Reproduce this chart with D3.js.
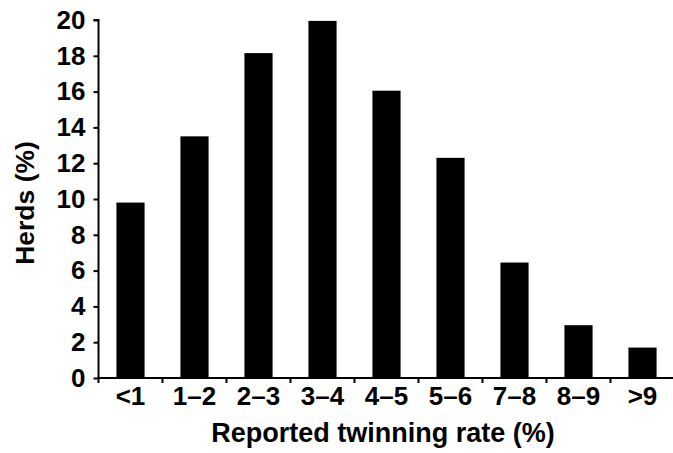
<!DOCTYPE html>
<html><head><meta charset="utf-8">
<script src="https://cdn.jsdelivr.net/npm/d3@7"></script>
<style>body{margin:0;background:#fff}svg{display:block}text{font-family:"Liberation Sans",Arial,sans-serif;font-weight:bold}</style>
</head><body>
<script>
const categories = ["<1","1\u20132","2\u20133","3\u20134","4\u20135","5\u20136","7\u20138","8\u20139",">9"];
const values = [9.8, 13.5, 18.15, 19.95, 16.05, 12.3, 6.45, 2.95, 1.7];
const yTicks = [0,2,4,6,8,10,12,14,16,18,20];

const W = 673, H = 453;
const svg = d3.select("body").append("svg").attr("width", W).attr("height", H);
const x = d3.scaleBand().domain(categories).range([98.5, 674.5]).paddingInner(0.56).paddingOuter(0.28);
const xb = d3.scaleBand().domain(categories).range([98.5, 674.5]);
const y = d3.scaleLinear().domain([0, 20]).range([378, 20]);

svg.selectAll("rect.bar").data(values).join("rect").attr("class","bar")
  .attr("x", (d,i) => x(categories[i]))
  .attr("width", x.bandwidth())
  .attr("y", d => y(d))
  .attr("height", d => y(0) - y(d))
  .attr("fill", "#000");

const yAxis = svg.append("g").attr("transform","translate(98.5,0)")
  .call(d3.axisLeft(y).tickValues(yTicks).tickSize(5).tickPadding(8).tickFormat(d3.format("d")));
yAxis.select(".domain").attr("stroke","#000").attr("stroke-width",2).attr("d","M-5,20H0V378");
yAxis.selectAll(".tick line").attr("stroke","#000").attr("stroke-width",2);
yAxis.selectAll(".tick text").attr("font-size",26).attr("fill","#000");

const xAxis = svg.append("g").attr("transform","translate(0,378)");
xAxis.call(d3.axisBottom(x).tickSize(0).tickPadding(9));
xAxis.select(".domain").remove();
xAxis.append("line").attr("x1",97.5).attr("x2",673).attr("stroke","#000").attr("stroke-width",2);
xAxis.selectAll("line.xt").data(categories.concat(["end"])).join("line").attr("class","xt")
  .attr("x1",(d,i)=> 98.5 + i*xb.step()).attr("x2",(d,i)=> 98.5 + i*xb.step())
  .attr("y1",0).attr("y2",5).attr("stroke","#000").attr("stroke-width",2);
xAxis.selectAll(".tick text").attr("font-size",26).attr("fill","#000");

svg.append("text").attr("x",383).attr("y",442).attr("text-anchor","middle")
  .attr("font-size",27).attr("fill","#000").text("Reported twinning rate (%)");
svg.append("text").attr("transform","translate(34,203) rotate(-90)").attr("text-anchor","middle")
  .attr("font-size",26.5).attr("fill","#000").text("Herds (%)");
</script>
</body></html>
